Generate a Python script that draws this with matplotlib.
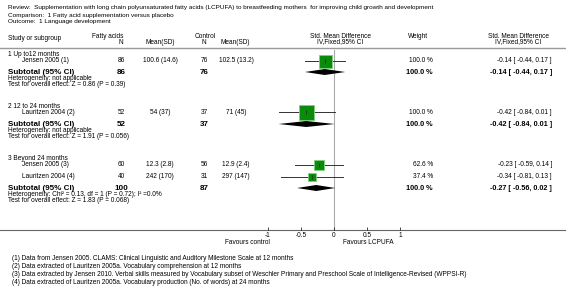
import matplotlib
matplotlib.use("Agg")
import matplotlib.pyplot as plt

plt.rcParams['font.family'] = ['Liberation Sans', 'DejaVu Sans']

# ---- data ----
title_lines = [
    "Review:  Supplementation with long chain polyunsaturated fatty acids (LCPUFA) to breastfeeding mothers  for improving child growth and development",
    "Comparison:  1 Fatty acid supplementation versus placebo",
    "Outcome:  1 Language development",
]
groups = ["1 Up to12 months", "2 12 to 24 months", "3 Beyond 24 months"]
studies = ["Jensen 2005 (1)", "Lauritzen 2004 (2)", "Jensen 2005 (3)", "Lauritzen 2004 (4)"]
study_group = [0, 1, 2, 2]
n_fa = [86, 52, 60, 40]
mean_fa = [100.6, 54, 12.3, 242]
sd_fa = [14.6, 37, 2.8, 170]
n_ct = [76, 37, 56, 31]
mean_ct = [102.5, 71, 12.9, 297]
sd_ct = [13.2, 45, 2.4, 147]
smd = [-0.14, -0.42, -0.23, -0.34]
smd_lo = [-0.44, -0.84, -0.59, -0.81]
smd_hi = [0.17, 0.01, 0.14, 0.13]
weight = [100.0, 100.0, 62.6, 37.4]

sub_n_fa = [86, 52, 100]
sub_n_ct = [76, 37, 87]
sub_smd = [-0.14, -0.42, -0.27]
sub_lo = [-0.44, -0.84, -0.56]
sub_hi = [0.17, 0.01, 0.02]
heterogeneity = [
    "Heterogeneity: not applicable",
    "Heterogeneity: not applicable",
    "Heterogeneity: Chi\u00b2 = 0.13, df = 1 (P = 0.72); I\u00b2 =0.0%",
]
overall = [
    "Test for overall effect: Z = 0.86 (P = 0.39)",
    "Test for overall effect: Z = 1.91 (P = 0.056)",
    "Test for overall effect: Z = 1.83 (P = 0.068)",
]
ticks = [-1, -0.5, 0, 0.5, 1]
tick_labels = ["-1", "-0.5", "0", "0.5", "1"]
footnotes = [
    "(1) Data from Jensen 2005. CLAMS: Clinical Linguistic and Auditory Milestone Scale at 12 months",
    "(2) Data extracted of Lauritzen 2005a. Vocabulary comprehension at 12 months",
    "(3) Data extracted by Jensen 2010. Verbal skills measured by Vocabulary subset of Weschler Primary and Preschool Scale of Intelligence-Revised (WPPSI-R)",
    "(4) Data extracted of Lauritzen 2005a. Vocabulary production (No. of words) at 24 months",
]

# ---- layout (pixels) ----
W, H = 566, 299
group_y = [54, 106, 158]
study_y = [61, 112, 165, 177]
sub_y = [72, 124, 188]
box_px = [13, 15, 10, 8]
fs = 4.7
fs_title = 4.55
fs_bold = 5.8
green = '#0b8a0b'

fig = plt.figure(figsize=(W / 100, H / 100), dpi=100)
bg = fig.add_axes([0, 0, 1, 1])
bg.set_xlim(0, W)
bg.set_ylim(H, 0)
bg.axis('off')

for i, t in enumerate(title_lines):
    bg.text(8, 8 + 7 * i, t, fontsize=fs_title, va='center', ha='left')

# column headers
bg.text(8, 38, "Study or subgroup", fontsize=fs, va='center')
bg.text(108, 36, "Fatty acids", fontsize=fs, va='center', ha='center')
bg.text(121, 42, "N", fontsize=fs, va='center', ha='center')
bg.text(160, 42, "Mean(SD)", fontsize=fs, va='center', ha='center')
bg.text(205, 36, "Control", fontsize=fs, va='center', ha='center')
bg.text(204, 42, "N", fontsize=fs, va='center', ha='center')
bg.text(235, 42, "Mean(SD)", fontsize=fs, va='center', ha='center')
bg.text(340, 36, "Std. Mean Difference", fontsize=fs, va='center', ha='center')
bg.text(340, 42, "IV,Fixed,95% CI", fontsize=fs, va='center', ha='center')
bg.text(418, 36, "Weight", fontsize=fs, va='center', ha='center')
bg.text(518, 36, "Std. Mean Difference", fontsize=fs, va='center', ha='center')
bg.text(518, 42, "IV,Fixed,95% CI", fontsize=fs, va='center', ha='center')
bg.plot([0, W], [48, 48], color='#999999', lw=1.0)
bg.plot([0, W], [230, 230], color='#666666', lw=0.8)

for g, name in enumerate(groups):
    bg.text(8, group_y[g], name, fontsize=fs, va='center')
    bg.text(8, sub_y[g], "Subtotal (95% CI)", fontsize=fs_bold, fontweight='bold', va='center')
    bg.text(121, sub_y[g], str(sub_n_fa[g]), fontsize=fs_bold, fontweight='bold', va='center', ha='center')
    bg.text(204, sub_y[g], str(sub_n_ct[g]), fontsize=fs_bold, fontweight='bold', va='center', ha='center')
    bg.text(433, sub_y[g], "100.0 %", fontsize=5.2, fontweight='bold', va='center', ha='right')
    bg.text(552, sub_y[g], f"{sub_smd[g]:.2f} [ {sub_lo[g]:.2f}, {sub_hi[g]:.2f} ]",
            fontsize=5.2, fontweight='bold', va='center', ha='right')
    bg.text(8, sub_y[g] + 6, heterogeneity[g], fontsize=fs, va='center')
    bg.text(8, sub_y[g] + 12, overall[g], fontsize=fs, va='center')

for i, name in enumerate(studies):
    y = study_y[i]
    bg.text(22, y, name, fontsize=fs, va='center')
    bg.text(121, y, str(n_fa[i]), fontsize=fs, va='center', ha='center')
    bg.text(160, y, f"{mean_fa[i]:g} ({sd_fa[i]:g})", fontsize=fs, va='center', ha='center')
    bg.text(204, y, str(n_ct[i]), fontsize=fs, va='center', ha='center')
    bg.text(236, y, f"{mean_ct[i]:g} ({sd_ct[i]:g})", fontsize=fs, va='center', ha='center')
    bg.text(433, y, f"{weight[i]:.1f} %", fontsize=fs, va='center', ha='right')
    bg.text(552, y, f"{smd[i]:.2f} [ {smd_lo[i]:.2f}, {smd_hi[i]:.2f} ]", fontsize=fs, va='center', ha='right')

for i, t in enumerate(footnotes):
    bg.text(12, 259 + 8 * i, t, fontsize=fs, va='center')

# ---- forest plot ----
x0, x1 = 268, 400
ax = fig.add_axes([x0 / W, 1 - 230 / H, (x1 - x0) / W, 180 / H])
ax.set_xlim(-1, 1)
ax.set_ylim(230, 50)
ax.patch.set_alpha(0)
for s in ax.spines.values():
    s.set_visible(False)
ax.axvline(0, color='#aaaaaa', lw=0.8, zorder=0)

for i in range(len(studies)):
    y = study_y[i]
    ax.plot([smd_lo[i], smd_hi[i]], [y, y], color='#333333', lw=0.7, zorder=1)
    ax.plot(smd[i], y, marker='s', ms=box_px[i] * 0.72, mfc=green, mec='#7fcf7f', mew=0.6, zorder=2)
    ax.plot(smd[i], y, marker='|', ms=2.5, color='#222222', mew=0.5, zorder=3)

for g in range(len(groups)):
    y = sub_y[g]
    ax.fill([sub_lo[g], sub_smd[g], sub_hi[g], sub_smd[g]], [y, y - 3, y, y + 3],
            color='black', lw=0, zorder=2)

ax.set_xticks(ticks)
ax.set_xticklabels(tick_labels)
ax.tick_params(axis='x', direction='in', length=2, width=0.5, labelsize=fs, pad=1.5)
ax.set_yticks([])
t1 = ax.text(-0.97, 243, "Favours control", fontsize=fs, ha='right', va='center')
t2 = ax.text(0.13, 243, "Favours LCPUFA", fontsize=fs, ha='left', va='center')
t1.set_clip_on(False)
t2.set_clip_on(False)

fig.savefig("out.png", dpi=100)
